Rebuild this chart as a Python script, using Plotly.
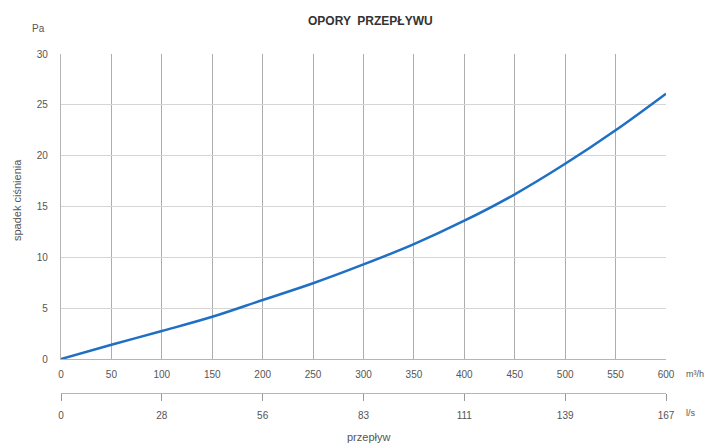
import plotly.graph_objects as go

# Data
flow_m3h = [0, 50, 100, 150, 200, 250, 300, 350, 400, 450, 500, 550, 600]
pressure_pa = [0, 1.4, 2.75, 4.15, 5.8, 7.45, 9.3, 11.3, 13.6, 16.2, 19.2, 22.5, 26.1]
x_ticks_m3h = [0, 50, 100, 150, 200, 250, 300, 350, 400, 450, 500, 550, 600]
ls_tick_m3h = [0, 100, 200, 300, 400, 500, 600]
ls_tick_labels = ["0", "28", "56", "83", "111", "139", "167"]
y_ticks = [0, 5, 10, 15, 20, 25, 30]

FONT = "Liberation Sans, Arial, sans-serif"
W, H = 709, 444
ml, mr, mt, mb = 61, 43, 54, 44
ph = H - mt - mb
y_bottom_px = 359
axis2_px = 393

def py(px):
    return (H - mb - px) / ph

def px_x(px):
    return (px - ml) / (W - ml - mr)

def label(text, x, y, size, xanchor="center", color="#555", angle=0):
    return dict(text=text, x=px_x(x), y=py(y), xref="paper", yref="paper",
                xanchor=xanchor, yanchor="middle", textangle=angle,
                showarrow=False, font=dict(size=size, color=color, family=FONT))

fig = go.Figure()
fig.add_trace(go.Scatter(
    x=flow_m3h, y=pressure_pa, mode="lines",
    line=dict(color="#1f6fc4", width=2.5, shape="spline"),
    showlegend=False, hoverinfo="x+y",
))
# invisible trace for secondary axis
fig.add_trace(go.Scatter(x=[0, 600 / 3.6], y=[0, 0], xaxis="x2", mode="lines",
                         line=dict(width=0), showlegend=False, hoverinfo="skip"))

fig.update_layout(
    width=W, height=H,
    margin=dict(l=ml, r=mr, t=mt, b=mb, autoexpand=False),
    paper_bgcolor="white", plot_bgcolor="white",
    font=dict(family=FONT, size=10, color="#555"),
    xaxis=dict(
        range=[0, 600], tickvals=x_ticks_m3h, showgrid=True, automargin=False,
        gridcolor="#adadad", gridwidth=1.4, showline=True, linecolor="#b5b5b5",
        linewidth=1.3, zeroline=False, ticks="outside", ticklen=6,
        tickcolor="rgba(0,0,0,0)", tickfont=dict(size=10, color="#555"),
        fixedrange=True,
    ),
    xaxis2=dict(
        range=[0, 600 / 3.6], overlaying="x", anchor="free", automargin=False,
        position=py(axis2_px), side="bottom",
        tickvals=[v / 3.6 for v in ls_tick_m3h], ticktext=ls_tick_labels,
        showgrid=False, showline=True, linecolor="#b5b5b5", linewidth=1.3,
        ticks="outside", ticklen=7, tickcolor="#999", zeroline=False,
        ticklabelstandoff=6,
        tickfont=dict(size=10, color="#555"), fixedrange=True,
    ),
    yaxis=dict(
        domain=[py(y_bottom_px), 1], range=[0, 30], tickvals=y_ticks, automargin=False,
        showgrid=True, gridcolor="#d5d5d5", gridwidth=1.3, showline=True,
        linecolor="#b5b5b5", linewidth=1.3, zeroline=False,
        ticks="outside", ticklen=10, tickcolor="rgba(0,0,0,0)",
        tickfont=dict(size=10, color="#555"), fixedrange=True,
    ),
    annotations=[
        label("<b>OPORY  PRZEPŁYWU</b>", 370, 21, 12, color="#333"),
        label("Pa", 38, 29, 10),
        label("spadek ciśnienia", 17, 200, 11, angle=-90),
        label("m³/h", 684, 374, 9, xanchor="left"),
        label("l/s", 684, 413, 9, xanchor="left"),
        label("przepływ", 369, 437, 11),
    ],
)

fig.write_html("out.html", config={"displayModeBar": False},
               post_script="document.body.style.margin='0';")
